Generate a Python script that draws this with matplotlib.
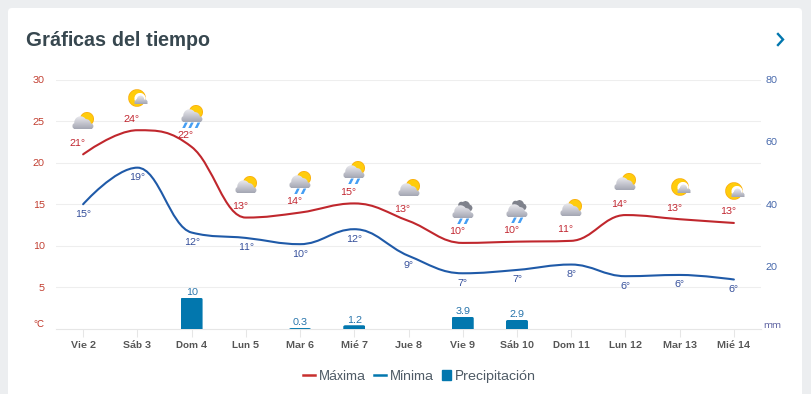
import numpy as np
import matplotlib
matplotlib.use('Agg')
import matplotlib.pyplot as plt
from matplotlib.lines import Line2D
from matplotlib.patches import FancyBboxPatch, PathPatch, Patch
from matplotlib.path import Path
from matplotlib.offsetbox import OffsetImage, AnnotationBbox

plt.rcParams['font.family'] = ['Liberation Sans', 'DejaVu Sans']
plt.rcParams['text.hinting'] = 'no_autohint'
plt.rcParams['text.hinting_factor'] = 1

days = ['Vie 2', 'Sáb 3', 'Dom 4', 'Lun 5', 'Mar 6', 'Mié 7', 'Jue 8',
        'Vie 9', 'Sáb 10', 'Dom 11', 'Lun 12', 'Mar 13', 'Mié 14']
temp_max = [21.0, 23.9, 21.9, 13.4, 14.0, 15.1, 13.0, 10.35, 10.5, 10.6, 13.7, 13.2, 12.75]
temp_min = [15.0, 19.4, 11.6, 10.95, 10.2, 12.0, 8.8, 6.7, 7.1, 7.75, 6.35, 6.5, 5.95]
label_max = [21, 24, 22, 13, 14, 15, 13, 10, 10, 11, 14, 13, 13]
label_min = [15, 19, 12, 11, 10, 12, 9, 7, 7, 8, 6, 6, 6]
precip = [0, 0, 10, 0, 0.3, 1.2, 0, 3.9, 2.9, 0, 0, 0, 0]
icons = ['sun_cloud', 'sun_big', 'sun_rain3', 'sun_cloud', 'sun_rain2', 'sun_rain2', 'sun_cloud',
         'rain', 'rain', 'sun_cloud', 'sun_cloud', 'sun_big', 'sun_big']

RED = '#c0272d'
BLUE = '#1f5aa8'
BAR = '#0277ae'
GRID = '#eeeeee'


def spline_path(xs, ys, smoothing=1.5):
    # same control points as a highcharts spline
    verts = [(xs[0], ys[0])]
    n = len(xs)
    conts = []
    for i in range(n):
        if i == 0 or i == n - 1:
            conts.append((ys[i], ys[i]))
            continue
        d = smoothing + 1
        lx = (smoothing * xs[i] + xs[i - 1]) / d
        ly = (smoothing * ys[i] + ys[i - 1]) / d
        rx = (smoothing * xs[i] + xs[i + 1]) / d
        ry = (smoothing * ys[i] + ys[i + 1]) / d
        corr = (ry - ly) * (rx - xs[i]) / (rx - lx) + ys[i] - ry
        ly += corr
        ry += corr
        if ly > ys[i - 1] and ly > ys[i]:
            ly = max(ys[i - 1], ys[i])
            ry = 2 * ys[i] - ly
        elif ly < ys[i - 1] and ly < ys[i]:
            ly = min(ys[i - 1], ys[i])
            ry = 2 * ys[i] - ly
        if ry > ys[i + 1] and ry > ys[i]:
            ry = max(ys[i + 1], ys[i])
            ly = 2 * ys[i] - ry
        elif ry < ys[i + 1] and ry < ys[i]:
            ry = min(ys[i + 1], ys[i])
            ly = 2 * ys[i] - ry
        conts.append((ly, ry))
    for i in range(n - 1):
        x0, x1 = xs[i], xs[i + 1]
        c1x = x0 if i == 0 else (1.5 * x0 + x1) / 2.5
        c2x = x1 if i == n - 2 else (1.5 * x1 + x0) / 2.5
        verts += [(c1x, conts[i][1]), (c2x, conts[i + 1][0]), (x1, ys[i + 1])]
    codes = [Path.MOVETO] + [Path.CURVE4] * (len(verts) - 1)
    return Path(verts, codes)


def reduce_icon(img, ss):
    h = img.shape[0] // ss
    out = np.zeros((h, h, 4))
    a = img[..., 3:].copy()
    pre = img[..., :3] * a
    blocks = np.concatenate([pre, a], axis=2).reshape(h, ss, h, ss, 4).mean(axis=(1, 3))
    alpha = blocks[..., 3:]
    out[..., :3] = np.where(alpha > 0, blocks[..., :3] / np.maximum(alpha, 1e-6), 1)
    out[..., 3:] = alpha
    return out


def make_icon(kind, size=30, ss=4):
    # small weather icon as an rgba array, drawn at ss times the size then reduced
    n = size * ss
    yy, xx = np.mgrid[0:n, 0:n]
    xx = (xx + 0.5) / ss - size / 2
    yy = (yy + 0.5) / ss - size / 2
    img = np.zeros((n, n, 4))

    def paint(mask, rgb):
        img[mask, :3] = np.asarray(rgb)[mask] if np.ndim(rgb) == 3 else rgb
        img[mask, 3] = 1

    def circle(cx, cy, r):
        return (xx - cx) ** 2 + (yy - cy) ** 2 <= r ** 2

    def grad(top, bottom, y0, y1):
        t = np.clip((yy - y0) / (y1 - y0), 0, 1)[..., None]
        return np.array(top) * (1 - t) + np.array(bottom) * t

    def cloud():
        m = circle(-2.5, 0.5, 6.2) | circle(-7.5, 4, 3.1) | circle(7.5, 4.2, 2.9) | circle(3, 2, 4.9)
        m |= (np.abs(xx) <= 9) & (yy >= 3) & (yy <= 7)
        m &= yy <= 7
        return m

    yellow = (1.0, 0.8, 0.05)
    orange = (0.98, 0.68, 0.05)
    light = (0.9, 0.9, 0.92)
    dark = (0.64, 0.65, 0.7)

    if kind == 'sun_big':
        paint(circle(0, 0, 8.8), orange)
        paint(circle(0, 0, 8), yellow)
        paint(circle(3, 0.5, 5.6), (1, 1, 1))
        m = circle(3.5, 1.2, 3.6) | circle(8, 3.7, 2.3) | circle(0.5, 3.4, 2.4)
        m |= (np.abs(xx - 4) <= 6.5) & (yy >= 3) & (yy <= 6)
        m &= yy <= 6
        paint(m, grad(light, dark, -2, 6))
        return reduce_icon(img, ss)

    rainy = kind in ('sun_rain3', 'sun_rain2', 'rain')
    if kind != 'rain':
        paint(circle(4, -3, 7), orange)
        paint(circle(4, -3, 6.2), yellow)
    else:
        m = circle(2.5, -5.5, 4.4) | circle(-1.5, -6, 3.3) | circle(6, -3, 3.4)
        paint(m, (0.5, 0.51, 0.55))
    paint(cloud(), grad(light, dark, -5, 7))
    if rainy:
        drops = [-7, -1, 5.5] if kind == 'sun_rain3' else [-3, 3.5]
        for d in drops:
            t = np.clip((yy - 7.5) / 5.5, 0, 1)
            cx = d + 1.4 - 2.8 * t
            m = (np.abs(xx - cx) <= 1.4) & (yy >= 7.5) & (yy <= 13)
            paint(m, (0.27, 0.62, 0.96))
    return reduce_icon(img, ss)


fig = plt.figure(figsize=(8.11, 3.94), dpi=100, facecolor='#eceef0')

# page background and card, in pixels
bg = fig.add_axes([0, 0, 1, 1])
bg.set_xlim(0, 811)
bg.set_ylim(394, 0)
bg.axis('off')
bg.add_patch(FancyBboxPatch((8, 8), 794, 420, boxstyle='round,pad=0,rounding_size=4',
                            fc='white', ec='none'))
bg.text(26, 46, 'Gráficas del tiempo', fontsize=14.4, fontweight='bold', color='#37474f')
bg.plot([778, 783, 778], [34, 39.5, 45], color=BAR, lw=1.7, solid_joinstyle='miter')
bg.text(44.5, 329, '°C', fontsize=7.2, color='#c0392b', ha='right', va='bottom')
bg.text(763, 330, 'mm', fontsize=7.2, color='#5a5fa0', ha='left', va='bottom')

rect = [56 / 811, (394 - 329) / 394, 705 / 811, 249.5 / 394]
ax2 = fig.add_axes(rect)
ax = ax2.twinx()
ax.yaxis.tick_left()
ax2.yaxis.tick_right()
ax.set_zorder(ax2.get_zorder() + 1)
ax.patch.set_visible(False)
ax2.patch.set_visible(False)

x = np.arange(len(days))

# bars on the mm axis with rounded tops
bars = ax2.bar(x, precip, width=22 / 54.23, color=BAR, zorder=3)
for b in bars:
    if b.get_height() > 0:
        clip = FancyBboxPatch((b.get_x(), -5), b.get_width(), b.get_height() + 5,
                              boxstyle='round,pad=0,rounding_size=0.04', mutation_aspect=12,
                              transform=ax2.transData, fc='none', ec='none')
        b.set_clip_path(clip)
ax2.bar_label(bars, labels=[f'{v:g}' if v else '' for v in precip], padding=0.5,
              fontsize=7, color='#1f6fa8', zorder=4)

ax.add_patch(PathPatch(spline_path(x, temp_max), fc='none', ec=RED, lw=1.5, capstyle='round', zorder=3))
ax.add_patch(PathPatch(spline_path(x, temp_min), fc='none', ec=BLUE, lw=1.5, capstyle='round', zorder=3))

for i in x:
    ax.annotate(f'{label_max[i]}°', (i, temp_max[i]), xytext=(-6, 11), textcoords='offset pixels',
                ha='center', va='center', fontsize=7, color='#c0202a', zorder=4)
    ax.annotate(f'{label_min[i]}°', (i, temp_min[i]), xytext=(0, -10), textcoords='offset pixels',
                ha='center', va='center', fontsize=7, color='#2f4a98', zorder=4)
    box = AnnotationBbox(OffsetImage(make_icon(icons[i]), zoom=1, dpi_cor=False), (i, temp_max[i]),
                         xybox=(0, 32), boxcoords='offset pixels', frameon=False, pad=0,
                         annotation_clip=False)
    ax.add_artist(box)

ax.set_xlim(-0.5, 12.5)
ax2.set_xlim(-0.5, 12.5)
ax.set_ylim(0, 30)
ax2.set_ylim(0, 80)
ax.set_yticks([5, 10, 15, 20, 25, 30])
ax2.set_yticks([20, 40, 60, 80])
ax.tick_params(axis='y', length=0, pad=8, labelsize=7.2, labelcolor='#c0392b')
ax2.tick_params(axis='y', length=0, pad=3.5, labelsize=7.2, labelcolor='#3f62a8')
ax2.set_xticks(x)
ax2.set_xticklabels(days, fontweight='bold')
ax2.tick_params(axis='x', length=5.8, width=0.75, color='#e6e6e6', pad=3, labelsize=7.2, labelcolor='#555555')
ax.tick_params(axis='x', bottom=False, labelbottom=False)

# horizontal grid sits on the lower axes, under the bars
for val in [5, 10, 15, 20, 25, 30]:
    ax.axhline(val, color=GRID, lw=0.8, zorder=1)
for a in (ax, ax2):
    for s in a.spines.values():
        s.set_visible(False)
ax2.spines['bottom'].set_visible(True)
ax2.spines['bottom'].set_color('#e6e6e6')
ax2.spines['bottom'].set_linewidth(0.8)

# two legends so the square can sit closer to its text than the line keys do
legend_style = dict(frameon=False, fontsize=10, labelcolor='#4f5b66', handletextpad=0.25,
                    borderpad=0, borderaxespad=0, loc='center left')
fig.legend([Line2D([], [], color='#c8302e', lw=1.8), Line2D([], [], color=BAR, lw=1.8)],
           ['Máxima', 'Mínima'], ncol=2, handlelength=0.87, columnspacing=0.6,
           bbox_to_anchor=(303 / 811, 1 - 376.5 / 394), **legend_style)
fig.legend([Patch(color=BAR)], ['Precipitación'], handlelength=0.65, handleheight=0.65,
           bbox_to_anchor=(442 / 811, 1 - 376.5 / 394), **legend_style)

fig.savefig('out.png', dpi=100, facecolor=fig.get_facecolor())
